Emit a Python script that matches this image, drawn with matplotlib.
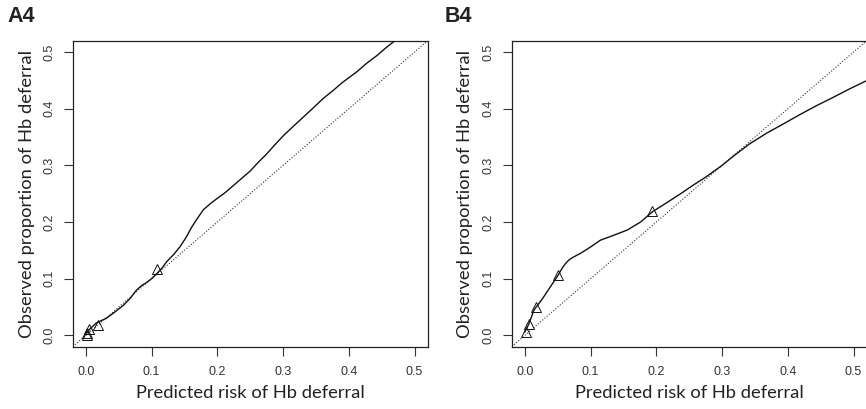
import numpy as np
import matplotlib
matplotlib.use("Agg")
import matplotlib.pyplot as plt

# ─── Datos ────────────────────────────────────────────────────────────────────
# Panel A4: curva de calibracion suavizada
a_curve_x = [0.000, 0.005, 0.016, 0.031, 0.045, 0.057, 0.068, 0.077, 0.085, 0.092,
             0.100, 0.108, 0.116, 0.123, 0.133, 0.143, 0.152, 0.161, 0.170, 0.179,
             0.189, 0.199, 0.212, 0.224, 0.237, 0.250, 0.262, 0.275, 0.288, 0.301,
             0.311, 0.326, 0.339, 0.351, 0.361, 0.377, 0.390, 0.412, 0.427,
             0.443, 0.456, 0.469]
a_curve_y = [0.002, 0.010, 0.022, 0.030, 0.042, 0.053, 0.066, 0.080, 0.088, 0.093,
             0.100, 0.109, 0.119, 0.130, 0.142, 0.156, 0.172, 0.191, 0.207, 0.222,
             0.232, 0.241, 0.252, 0.264, 0.277, 0.290, 0.305, 0.320, 0.337, 0.353,
             0.364, 0.380, 0.394, 0.407, 0.418, 0.433, 0.446, 0.465, 0.480,
             0.494, 0.507, 0.519]
# Panel A4: observados por grupo (triangulos)
a_pts_x = [0.001, 0.002, 0.005, 0.018, 0.108]
a_pts_y = [0.001, 0.004, 0.011, 0.019, 0.117]

# Panel B4: curva de calibracion suavizada
b_curve_x = [0.000, 0.006, 0.014, 0.027, 0.039, 0.051, 0.057, 0.062, 0.067, 0.072,
             0.085, 0.100, 0.115, 0.136, 0.156, 0.176, 0.194, 0.217, 0.237, 0.256,
             0.276, 0.300, 0.318, 0.342, 0.368, 0.393, 0.419, 0.443, 0.469, 0.494,
             0.519]
b_curve_y = [0.006, 0.020, 0.045, 0.065, 0.086, 0.107, 0.119, 0.127, 0.133, 0.137,
             0.145, 0.156, 0.168, 0.177, 0.186, 0.200, 0.218, 0.235, 0.250, 0.265,
             0.280, 0.300, 0.317, 0.338, 0.357, 0.373, 0.390, 0.405, 0.420, 0.435,
             0.449]
# Panel B4: observados por grupo (triangulos)
b_pts_x = [0.0015, 0.0056, 0.0167, 0.051, 0.194]
b_pts_y = [0.0064, 0.0199, 0.050, 0.107, 0.219]

ticks = [0.0, 0.1, 0.2, 0.3, 0.4, 0.5]
tick_labels = ["0.0", "0.1", "0.2", "0.3", "0.4", "0.5"]
panel_names = ["A4", "B4"]
xlabel_txt = "Predicted risk of Hb deferral"
ylabel_txt = "Observed proportion of Hb deferral"

# ─── Figura ──────────────────────────────────────────────────────────────────
fig = plt.figure(figsize=(8.66, 4.09), dpi=100)
fig.patch.set_facecolor("white")

W, H = 866, 409
# cajas de ejes en pixeles (izq, arriba, der, abajo)
ax_boxes = [(72.7, 40.7, 427.7, 346.7), (511.7, 40.7, 866.7, 346.7)]
panels = [(a_curve_x, a_curve_y, a_pts_x, a_pts_y),
          (b_curve_x, b_curve_y, b_pts_x, b_pts_y)]
title_x = [7, 445]
ylabel_x = [27, 465]

LABEL_FONT = "Lato"
TICK_FONT = "Liberation Sans"

for i, (box, (cx, cy, px, py)) in enumerate(zip(ax_boxes, panels)):
    l, t, r, b = box
    ax = fig.add_axes([l / W, (H - b) / H, (r - l) / W, (b - t) / H])
    ax.set_xlim(-0.02, 0.52)
    ax.set_ylim(-0.02, 0.52)

    # diagonal ideal
    ax.plot([-0.02, 0.52], [-0.02, 0.52], color="#333333", lw=0.8,
            ls=(0, (1, 1.6)), zorder=2)
    ax.plot(cx, cy, color="#111111", lw=1.0, zorder=3)
    ax.plot(px, py, ls="none", marker="^", ms=6.5, mfc="none", mec="#111111",
            mew=0.7, zorder=4)

    ax.set_xticks(ticks)
    ax.set_xticklabels(tick_labels, fontfamily=TICK_FONT, fontsize=9, color="#333333")
    ax.set_yticks(ticks)
    ax.set_yticklabels(tick_labels, fontfamily=TICK_FONT, fontsize=9, color="#333333",
                       rotation=90, va="center")
    ax.tick_params(axis="x", direction="out", length=6.7, width=0.8, pad=7.5,
                   color="#333333")
    ax.tick_params(axis="y", direction="out", length=6.7, width=0.8, pad=5.5,
                   color="#333333")
    for s in ax.spines.values():
        s.set_linewidth(0.9)
        s.set_edgecolor("#222222")

    ax.set_xlabel(xlabel_txt, fontfamily=LABEL_FONT, fontsize=13.2, color="#222222")
    ax.xaxis.label.set_va("center")
    ax.xaxis.set_label_coords(0.5, -(393 - b) / (b - t))
    ax.set_ylabel(ylabel_txt, fontfamily=LABEL_FONT, fontsize=13.2, color="#222222")
    ax.yaxis.label.set_va("center")
    ax.yaxis.set_label_coords(-(l - ylabel_x[i]) / (r - l), 0.5)

    fig.text(title_x[i] / W, 1 - 17 / H, panel_names[i], fontfamily="Liberation Sans",
             fontweight="bold", fontsize=15.5, color="#222222", ha="left", va="center")

plt.savefig("out.png", dpi=100, facecolor="white")
